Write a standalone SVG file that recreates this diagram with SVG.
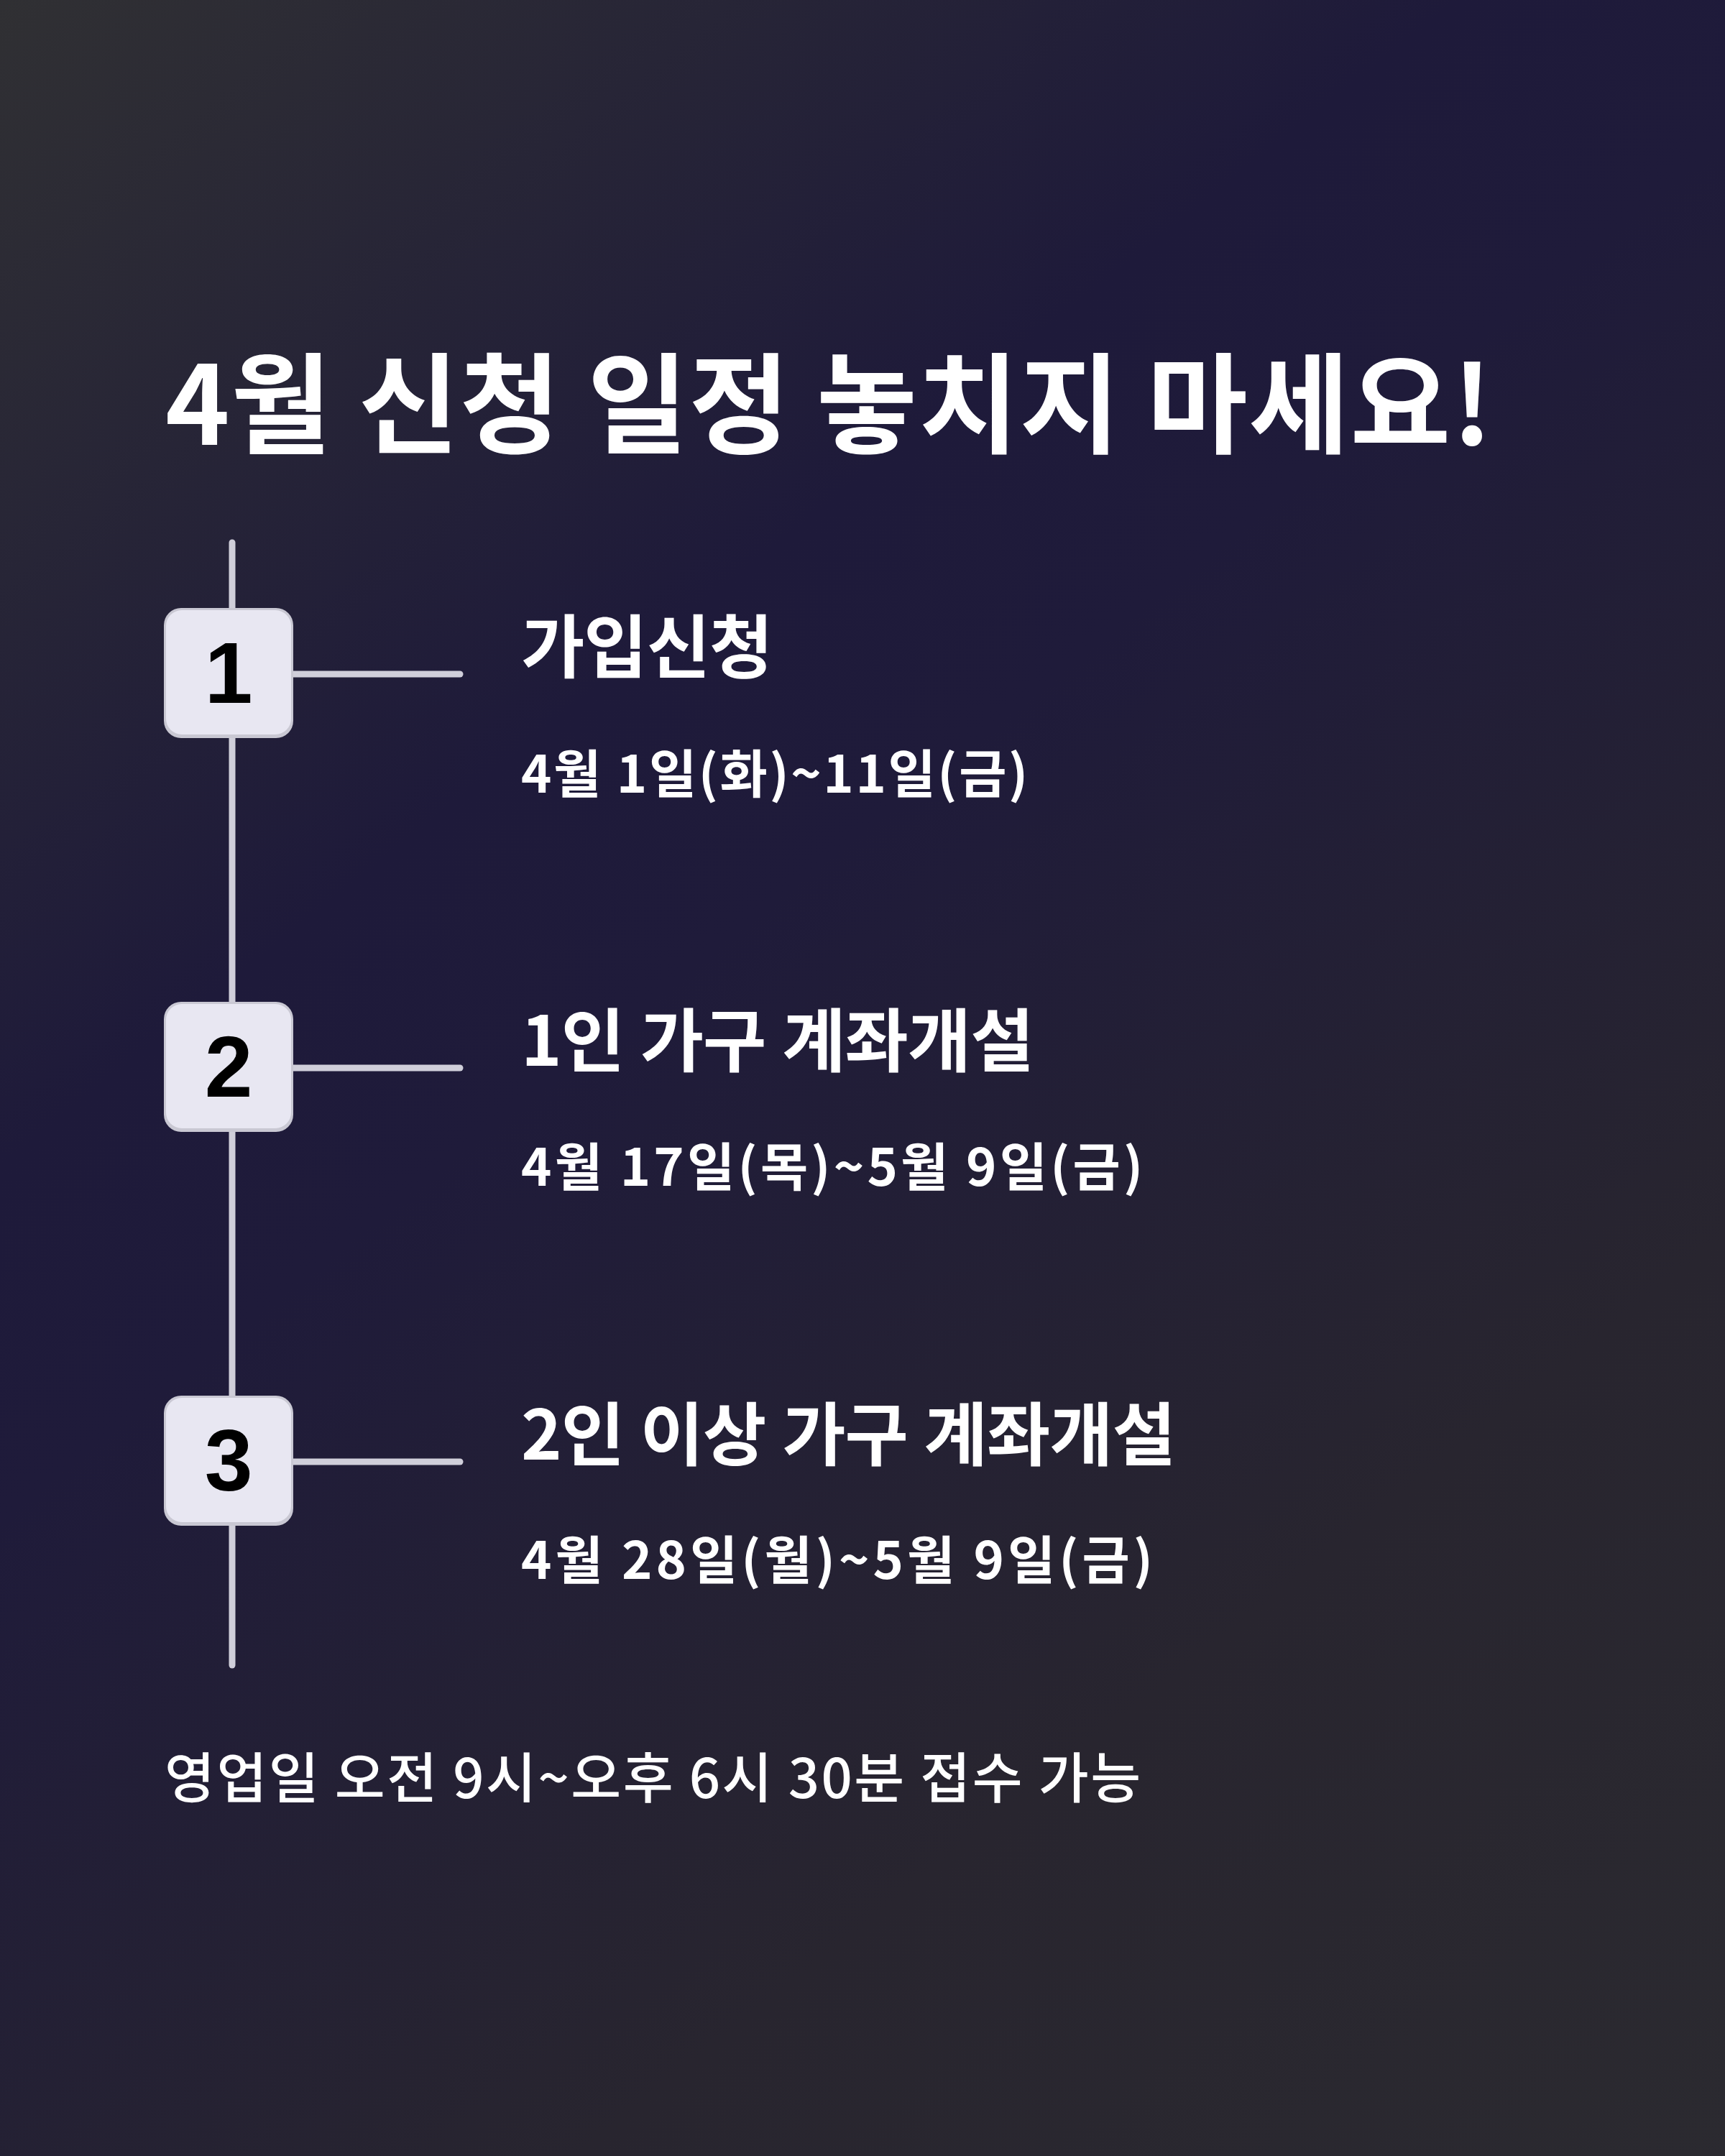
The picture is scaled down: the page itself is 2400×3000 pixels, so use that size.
<svg xmlns="http://www.w3.org/2000/svg" width="2400" height="3000" viewBox="0 0 2400 3000">
  <defs>
    <linearGradient id="bg" gradientUnits="userSpaceOnUse" x1="0" y1="0" x2="2400" y2="3000">
      <stop offset="0" stop-color="#303033"/>
      <stop offset="0.33" stop-color="#1e1a3a"/>
      <stop offset="0.43" stop-color="#1f1b3a"/>
      <stop offset="0.74" stop-color="#28252f"/>
      <stop offset="1" stop-color="#2b2a30"/>
    </linearGradient>
    <style>
      .kr { font-family: "Noto Sans CJK KR", "Noto Sans", sans-serif; fill: #ffffff; }
      .title { font-size: 152px; font-weight: 700; letter-spacing: 1.5px; }
      .label { font-size: 96px; font-weight: 700; letter-spacing: -1px; word-spacing: 2px; }
      .date { font-size: 72px; font-weight: 700; letter-spacing: 4px; }
      .foot { font-size: 76px; font-weight: 500; letter-spacing: 2.5px; }
      .num { font-family: "Liberation Sans", Arial, sans-serif; font-weight: 700; font-size: 120px; fill: #000000; text-anchor: middle; }
      .line { stroke: #d0cfda; stroke-width: 9; stroke-linecap: round; fill: none; }
      .boxbg { fill: #c9c8d3; }
      .boxfg { fill: #e8e7f2; }
    </style>
  </defs>
  <rect x="0" y="0" width="2400" height="3000" fill="url(#bg)"/>

  <text id="title" class="kr title" x="230" y="619">4월 신청 일정 놓치지 마세요!</text>

  <g id="connectors">
    <line class="line" x1="323" y1="755" x2="323" y2="2317"/>
    <line class="line" x1="405" y1="938" x2="640" y2="938"/>
    <line class="line" x1="405" y1="1486" x2="640" y2="1486"/>
    <line class="line" x1="405" y1="2034" x2="640" y2="2034"/>
  </g>

  <g id="step1">
    <rect class="boxbg" x="228" y="846" width="180" height="181" rx="24"/>
    <rect class="boxfg" x="231" y="849" width="174" height="173" rx="22"/>
    <text class="num" x="318" y="978">1</text>
    <text class="kr label" x="725" y="935">가입신청</text>
    <text class="kr date" x="725" y="1103" style="letter-spacing:2.6px">4월 1일(화)~11일(금)</text>
  </g>

  <g id="step2">
    <rect class="boxbg" x="228" y="1394" width="180" height="181" rx="24"/>
    <rect class="boxfg" x="231" y="1397" width="174" height="173" rx="22"/>
    <text class="num" x="318" y="1526">2</text>
    <text class="kr label" x="725" y="1483">1인 가구 계좌개설</text>
    <text class="kr date" x="725" y="1650" style="letter-spacing:4.2px">4월 17일(목)~5월 9일(금)</text>
  </g>

  <g id="step3">
    <rect class="boxbg" x="228" y="1942" width="180" height="181" rx="24"/>
    <rect class="boxfg" x="231" y="1945" width="174" height="173" rx="22"/>
    <text class="num" x="318" y="2074">3</text>
    <text class="kr label" x="725" y="2031">2인 이상 가구 계좌개설</text>
    <text class="kr date" x="725" y="2197" style="letter-spacing:5px">4월 28일(월)~5월 9일(금)</text>
  </g>

  <text id="footer" class="kr foot" x="229" y="2502">영업일 오전 9시~오후 6시 30분 접수 가능</text>
</svg>
